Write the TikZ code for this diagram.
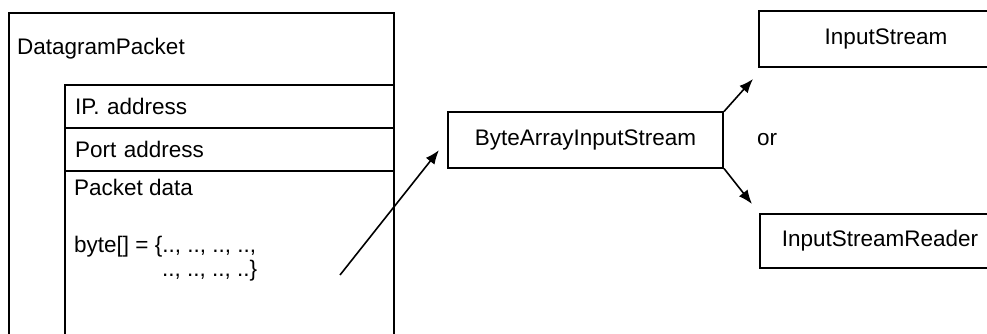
\documentclass[tikz,border=0pt]{standalone}
\usepackage{fontspec}
\setmainfont{Liberation Sans}
\usetikzlibrary{arrows.meta,calc}
\begin{document}
\begin{tikzpicture}[x=1pt,y=-1pt,
  every node/.style={font=\fontsize{22.5}{26}\selectfont},
  box/.style={draw, line width=2pt, inner sep=0pt},
  field/.style={box, anchor=north west, minimum width=329pt, minimum height=43pt,
                text width=309pt, align=left},
  txt/.style={anchor=base west, inner sep=0pt},
  flow/.style={line width=1.6pt, -{Latex[length=14pt,width=11pt]}}
]
\useasboundingbox (0,0) rectangle (987,334);
\fill[white] (0,0) rectangle (987,334);

% the datagram packet and its fields
\node[box, anchor=north west, minimum width=385pt, minimum height=340pt] (dgram) at (8,12) {};
\node[txt] (dgname) at (17,55) {DatagramPacket};
\node[field] (ip) at (64,84) {IP. address};
\node[field] (port) at (64,127) {Port address};
\node[box, anchor=north west, minimum width=329pt, minimum height=180pt] (data) at (64,170) {};
\node[txt] (datalabel) at (74,195) {Packet data};
\node[txt] (bytes) at (74,252) {byte[] = \{.., .., .., ..,};
\node[txt] (bytesmore) at (162,276) {.., .., .., ..\}};

% stream classes
\node[box, minimum width=275pt, minimum height=55pt] (bais) at (585.5,140) {ByteArrayInputStream};
\node[box, minimum width=254pt, minimum height=56pt] (instream) at (886,39) {InputStream};
\node[box, minimum width=240pt, minimum height=54pt] (reader) at (880,241) {InputStreamReader};
\node[txt] (or) at (757,146) {or};

% connectors
\coordinate (src) at (340,275);
\draw[flow, shorten >=13pt] (src) -- (bais.west);
\draw[flow] (bais.north east) -- ($(instream.south west)+(-5,11)$);
\draw[flow] (bais.south east) -- ($(reader.north west)+(-7,-9)$);
\end{tikzpicture}
\end{document}
